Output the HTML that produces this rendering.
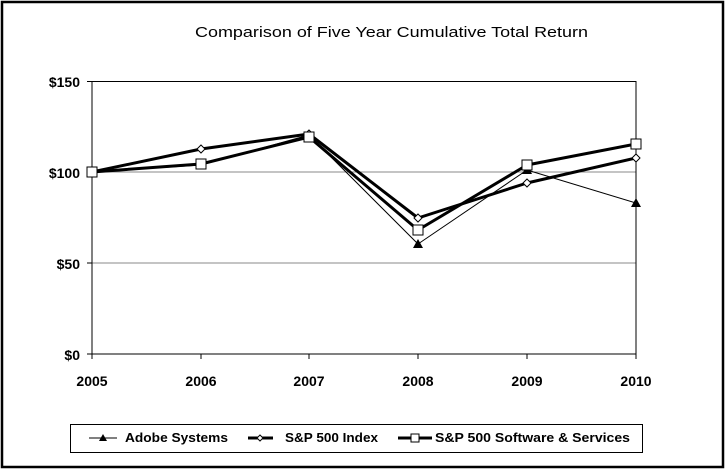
<!DOCTYPE html>
<html><head><style>body{margin:0;background:#fff}</style></head><body>
<svg width="726" height="471" xmlns="http://www.w3.org/2000/svg" font-family="Liberation Sans, Arial, sans-serif">
<rect x="2" y="2" width="721" height="465" fill="#fff" stroke="#000" stroke-width="2.5"/>
<text x="195" y="37" font-size="15" textLength="393" lengthAdjust="spacingAndGlyphs">Comparison of Five Year Cumulative Total Return</text>
<line x1="92" y1="172" x2="636" y2="172" stroke="#888" stroke-width="1"/>
<line x1="92" y1="263" x2="636" y2="263" stroke="#888" stroke-width="1"/>
<rect x="92" y="81.5" width="544" height="272.5" fill="none" stroke="#000" stroke-width="1"/>
<g stroke="#000" stroke-width="1">
<line x1="87" y1="81.5" x2="92" y2="81.5"/><line x1="87" y1="172" x2="92" y2="172"/><line x1="87" y1="263" x2="92" y2="263"/><line x1="87" y1="354" x2="92" y2="354"/>
<line x1="92" y1="354" x2="92" y2="359"/><line x1="201" y1="354" x2="201" y2="359"/><line x1="309" y1="354" x2="309" y2="359"/><line x1="418" y1="354" x2="418" y2="359"/><line x1="527" y1="354" x2="527" y2="359"/><line x1="636" y1="354" x2="636" y2="359"/>
</g>
<g font-size="14" font-weight="bold" text-anchor="end">
<text x="80" y="87">$150</text><text x="80" y="178">$100</text><text x="80" y="269">$50</text><text x="80" y="360">$0</text>
</g>
<g font-size="14" font-weight="bold" text-anchor="middle">
<text x="92" y="386">2005</text><text x="201" y="386">2006</text><text x="309" y="386">2007</text><text x="418" y="386">2008</text><text x="527" y="386">2009</text><text x="636" y="386">2010</text>
</g>
<g fill="none" stroke="#000" stroke-linejoin="round">
<polyline stroke-width="1" points="92,172 201,165 309,135 418,244 527,170 636,203"/>
<polyline stroke-width="3" points="92,172 201,149 309,134 418,218 527,183 636,158"/>
<polyline stroke-width="3" points="92,172 201,164 309,137 418,230 527,165 636,144"/>
</g>
<g fill="#000"><polygon points="418,239 413,248 423,248"/><polygon points="527,165 522,174 532,174"/><polygon points="636,198 631,207 641,207"/></g>
<g fill="#fff" stroke="#000" stroke-width="1">
<polygon points="201,145 205,149 201,153 197,149"/><polygon points="309,130 313,134 309,138 305,134"/><polygon points="418,214 422,218 418,222 414,218"/><polygon points="527,179 531,183 527,187 523,183"/><polygon points="636,154 640,158 636,162 632,158"/>
<rect x="87" y="167" width="10" height="10"/><rect x="196" y="159" width="10" height="10"/><rect x="304" y="132" width="10" height="10"/><rect x="413" y="225" width="10" height="10"/><rect x="522" y="160" width="10" height="10"/><rect x="631" y="139" width="10" height="10"/>
</g>
<rect x="70.5" y="424.5" width="572" height="28" fill="none" stroke="#000" stroke-width="1"/>
<line x1="89" y1="438" x2="117" y2="438" stroke="#000"/><polygon points="103,434 99,441 107,441"/>
<line x1="248" y1="438" x2="273" y2="438" stroke="#000" stroke-width="3"/><polygon points="260,435 263,438 260,441 257,438" fill="#fff" stroke="#000"/>
<line x1="398" y1="438" x2="432" y2="438" stroke="#000" stroke-width="3"/><rect x="411" y="434" width="8" height="8" fill="#fff" stroke="#000"/>
<g font-size="13" font-weight="bold">
<text x="125" y="442" textLength="103" lengthAdjust="spacingAndGlyphs">Adobe Systems</text><text x="285" y="442" textLength="93" lengthAdjust="spacingAndGlyphs">S&amp;P 500 Index</text><text x="435" y="442" textLength="195" lengthAdjust="spacingAndGlyphs">S&amp;P 500 Software &amp; Services</text>
</g>
</svg>
</body></html>
